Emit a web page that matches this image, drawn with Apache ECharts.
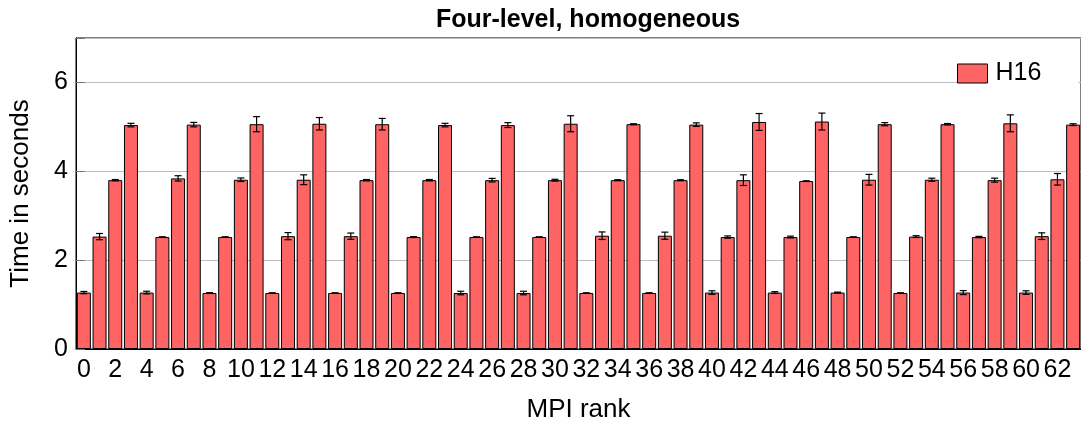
<!DOCTYPE html>
<html>
<head>
<meta charset="utf-8">
<script src="https://cdn.jsdelivr.net/npm/echarts@6/dist/echarts.min.js"></script>
<style>
  html, body { margin: 0; padding: 0; background: #fff; }
  #chart { width: 1081px; height: 428px; }
</style>
</head>
<body>
<div id="chart"></div>
<script>
// MPI ranks 0..63
const ranks = Array.from({ length: 64 }, (_, i) => String(i));

// Mean run time per rank (seconds)
const times = [
  1.27, 2.53, 3.80, 5.04,  1.27, 2.52, 3.84, 5.05,
  1.26, 2.52, 3.81, 5.06,  1.26, 2.54, 3.81, 5.07,
  1.26, 2.54, 3.80, 5.06,  1.26, 2.52, 3.80, 5.04,
  1.26, 2.52, 3.80, 5.04,  1.26, 2.52, 3.80, 5.07,
  1.26, 2.55, 3.80, 5.06,  1.26, 2.55, 3.80, 5.05,
  1.27, 2.52, 3.80, 5.11,  1.27, 2.52, 3.78, 5.12,
  1.27, 2.52, 3.81, 5.06,  1.26, 2.53, 3.81, 5.06,
  1.27, 2.52, 3.80, 5.08,  1.27, 2.54, 3.82, 5.05
];

// Half-width of the error bar per rank (seconds)
const errors = [
  0.025, 0.07, 0.015, 0.04,  0.03, 0.005, 0.06, 0.05,
  0.01, 0.005, 0.04, 0.17,   0.005, 0.08, 0.11, 0.14,
  0.005, 0.07, 0.015, 0.13,  0.005, 0.01, 0.015, 0.04,
  0.04, 0.005, 0.04, 0.055,  0.04, 0.005, 0.02, 0.18,
  0.005, 0.085, 0.01, 0.01,  0.005, 0.08, 0.01, 0.04,
  0.04, 0.025, 0.12, 0.19,   0.02, 0.02, 0.005, 0.19,
  0.01, 0.005, 0.12, 0.035,  0.005, 0.02, 0.035, 0.015,
  0.045, 0.015, 0.045, 0.19, 0.04, 0.075, 0.13, 0.02
];

const yTicks = [0, 2, 4, 6];

const font = 'Liberation Sans, Arial, Helvetica, sans-serif';
const chart = echarts.init(document.getElementById('chart'), null, { renderer: 'canvas' });

const errData = times.map((v, i) => [i, v - errors[i], v + errors[i]]);

chart.setOption({
  animation: false,
  backgroundColor: '#fff',
  textStyle: { fontFamily: font },
  title: {
    text: 'Four-level, homogeneous',
    left: 431,
    top: 3,
    textStyle: { fontFamily: font, fontSize: 25, fontWeight: 'bold', color: '#000' }
  },
  legend: {
    data: [{ name: 'H16', icon: 'rect' }],
    left: 957,
    top: 60,
    orient: 'horizontal',
    itemWidth: 30,
    itemHeight: 19,
    itemGap: 0,
    padding: [1, 37, 1, 0],
    backgroundColor: '#fff',
    textStyle: { fontFamily: font, fontSize: 25, color: '#000', padding: [0, 0, 0, 3] },
    itemStyle: { color: '#ff6464', borderColor: '#000', borderWidth: 1 }
  },
  grid: {
    left: 75,
    right: -7,
    top: 38,
    bottom: 78,
    show: true,
    borderColor: '#000',
    borderWidth: 1,
    containLabel: false
  },
  xAxis: {
    type: 'category',
    data: ranks,
    name: 'MPI rank',
    nameLocation: 'middle',
    nameGap: 48,
    nameTextStyle: { fontFamily: font, fontSize: 26, color: '#000' },
    axisLine: { show: true, lineStyle: { color: '#000', width: 1 } },
    axisTick: { show: false },
    axisLabel: {
      interval: 1,
      margin: 9,
      fontFamily: font,
      fontSize: 25,
      color: '#000'
    }
  },
  yAxis: {
    type: 'value',
    min: 0,
    max: 7,
    interval: 2,
    name: 'Time in seconds',
    nameLocation: 'middle',
    nameGap: 42,
    nameTextStyle: { fontFamily: font, fontSize: 26, color: '#000' },
    axisLine: { show: true, lineStyle: { color: '#000', width: 1 } },
    axisTick: { show: true, inside: true, length: 9, lineStyle: { color: '#777' } },
    axisLabel: {
      margin: 8,
      fontFamily: font,
      fontSize: 25,
      color: '#000',
      formatter: v => (yTicks.includes(v) ? String(v) : '')
    },
    splitLine: { show: true, lineStyle: { color: '#bdbdbd', width: 1 } }
  },
  series: [
    {
      name: 'H16',
      type: 'bar',
      data: times,
      barWidth: 14,
      itemStyle: { color: '#ff6464', borderColor: '#000', borderWidth: 1 },
      z: 2
    },
    {
      name: 'error',
      type: 'custom',
      data: errData,
      z: 3,
      encode: { x: 0, y: [1, 2] },
      renderItem: function (params, api) {
        const idx = api.value(0);
        const lo = api.coord([idx, api.value(1)]);
        const hi = api.coord([idx, api.value(2)]);
        const cap = 3.5;
        const style = { stroke: '#000', lineWidth: 1.2, fill: null };
        return {
          type: 'group',
          children: [
            { type: 'line', shape: { x1: lo[0], y1: lo[1], x2: hi[0], y2: hi[1] }, style },
            { type: 'line', shape: { x1: lo[0] - cap, y1: lo[1], x2: lo[0] + cap, y2: lo[1] }, style },
            { type: 'line', shape: { x1: hi[0] - cap, y1: hi[1], x2: hi[0] + cap, y2: hi[1] }, style }
          ]
        };
      }
    }
  ]
});
</script>
</body>
</html>
